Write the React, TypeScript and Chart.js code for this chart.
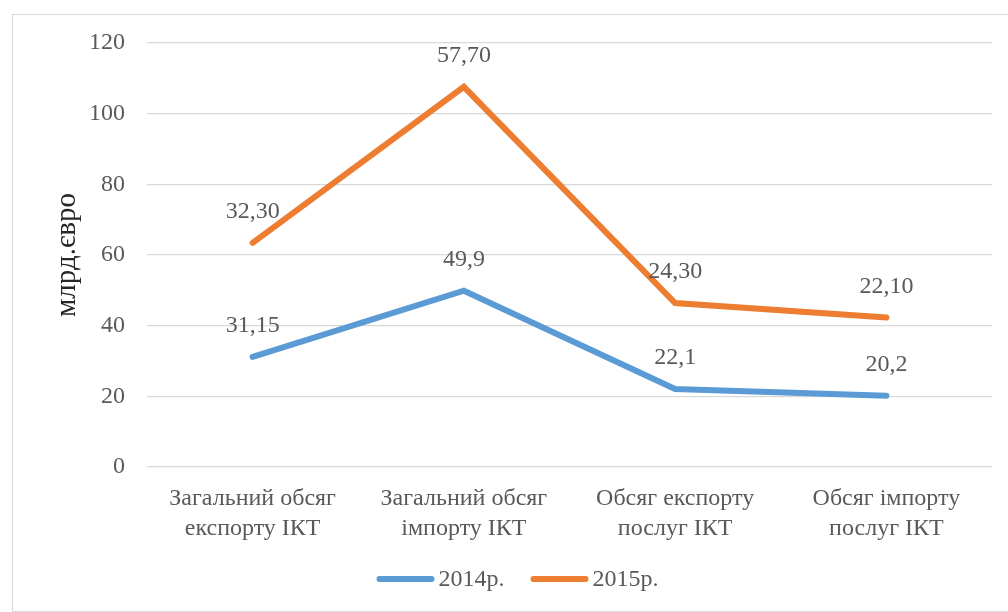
import React, { useEffect, useRef } from "react";
import { Chart, registerables } from "chart.js";

Chart.register(...registerables);

const categories: string[][] = [
  ["Загальний обсяг", "експорту ІКТ"],
  ["Загальний обсяг", "імпорту ІКТ"],
  ["Обсяг експорту", "послуг ІКТ"],
  ["Обсяг імпорту", "послуг ІКТ"],
];
const seriesNames = ["2014р.", "2015р."];
const values2014 = [31.15, 49.9, 22.1, 20.2];
const values2015 = [32.3, 57.7, 24.3, 22.1];
const labels2014 = ["31,15", "49,9", "22,1", "20,2"];
const labels2015 = ["32,30", "57,70", "24,30", "22,10"];
const yTicks = [0, 20, 40, 60, 80, 100, 120];
const yTitle = "млрд.євро";

const COLORS = ["#5B9BD5", "#ED7D31"];
const TEXT = "#595959";
const FONT = "'Liberation Serif', 'Times New Roman', serif";
const FS = 24;

const valueLabelPlugin = {
  id: "valueLabels",
  afterDatasetsDraw(chart: any) {
    const ctx = chart.ctx;
    const all = [labels2014, labels2015];
    ctx.save();
    ctx.font = `${FS}px ${FONT}`;
    ctx.fillStyle = TEXT;
    ctx.textAlign = "center";
    ctx.textBaseline = "middle";
    chart.data.datasets.forEach((_: any, di: number) => {
      const meta = chart.getDatasetMeta(di);
      meta.data.forEach((pt: any, i: number) => {
        ctx.fillText(all[di][i], pt.x, pt.y - 31);
      });
    });
    ctx.restore();
  },
};

const legendPlugin = {
  id: "customLegend",
  afterDraw(chart: any) {
    const ctx = chart.ctx;
    ctx.save();
    ctx.font = `${FS}px ${FONT}`;
    const lineW = 58;
    const gap = 4;
    const itemGap = 26;
    const widths = seriesNames.map((n) => lineW + gap + ctx.measureText(n).width);
    const total = widths.reduce((a, b) => a + b, 0) + itemGap * (widths.length - 1);
    let x = (chart.chartArea.left + chart.chartArea.right) / 2 - total / 2 - 52;
    const y = 579;
    seriesNames.forEach((n, i) => {
      ctx.strokeStyle = COLORS[i];
      ctx.lineWidth = 6;
      ctx.lineCap = "round";
      ctx.beginPath();
      ctx.moveTo(x + 3, y);
      ctx.lineTo(x + lineW - 3, y);
      ctx.stroke();
      ctx.fillStyle = TEXT;
      ctx.textAlign = "left";
      ctx.textBaseline = "middle";
      ctx.fillText(n, x + lineW + gap, y + 1);
      x += widths[i] + itemGap;
    });
    ctx.restore();
  },
};

export default function App() {
  const ref = useRef<HTMLCanvasElement | null>(null);
  useEffect(() => {
    if (!ref.current) return;
    const chart = new Chart(ref.current, {
      type: "line",
      data: {
        labels: categories,
        datasets: [
          {
            label: seriesNames[0],
            data: values2014,
            borderColor: COLORS[0],
            backgroundColor: COLORS[0],
            borderWidth: 6,
            pointRadius: 0,
            tension: 0,
            borderCapStyle: "round",
            fill: false,
          },
          {
            label: seriesNames[1],
            data: values2015,
            borderColor: COLORS[1],
            backgroundColor: COLORS[1],
            borderWidth: 6,
            pointRadius: 0,
            tension: 0,
            borderCapStyle: "round",
            fill: false,
          },
        ],
      },
      options: {
        animation: false,
        responsive: false,
        maintainAspectRatio: false,
        layout: { padding: { left: 0, right: 16, top: 43, bottom: 0 } },
        plugins: {
          legend: { display: false },
          tooltip: { enabled: false },
        },
        scales: {
          x: {
            offset: true,
            grid: { display: false, drawTicks: false, offset: true },
            border: { display: false },
            ticks: {
              color: TEXT,
              font: { family: FONT, size: FS, lineHeight: 1.25 },
              padding: 17,
              maxRotation: 0,
              autoSkip: false,
            },
            afterFit(scale: any) {
              scale.height = 145;
            },
          },
          y: {
            stacked: true,
            min: 0,
            max: 120,
            afterBuildTicks(scale: any) {
              scale.ticks = yTicks.map((v) => ({ value: v }));
            },
            grid: { color: "#d9d9d9", lineWidth: 1.3, drawTicks: false },
            border: { display: false },
            ticks: {
              color: TEXT,
              font: { family: FONT, size: FS },
              padding: 22,
            },
            title: {
              display: true,
              text: yTitle,
              color: "#262626",
              font: { family: FONT, size: 29 },
              padding: { top: 50, bottom: 0 },
            },
            afterFit(scale: any) {
              scale.width = 147;
            },
          },
        },
      },
      plugins: [valueLabelPlugin, legendPlugin],
    });
    return () => chart.destroy();
  }, []);
  return (
    <div style={{ position: "fixed", left: 0, top: 0, width: 1008, height: 612, background: "#fff" }}>
      <div
        style={{
          position: "absolute",
          left: 12,
          top: 14,
          width: 1010,
          height: 596,
          border: "1px solid #d9d9d9",
        }}
      />
      <canvas ref={ref} width={1008} height={612} style={{ position: "absolute", left: 0, top: 0 }} />
    </div>
  );
}
